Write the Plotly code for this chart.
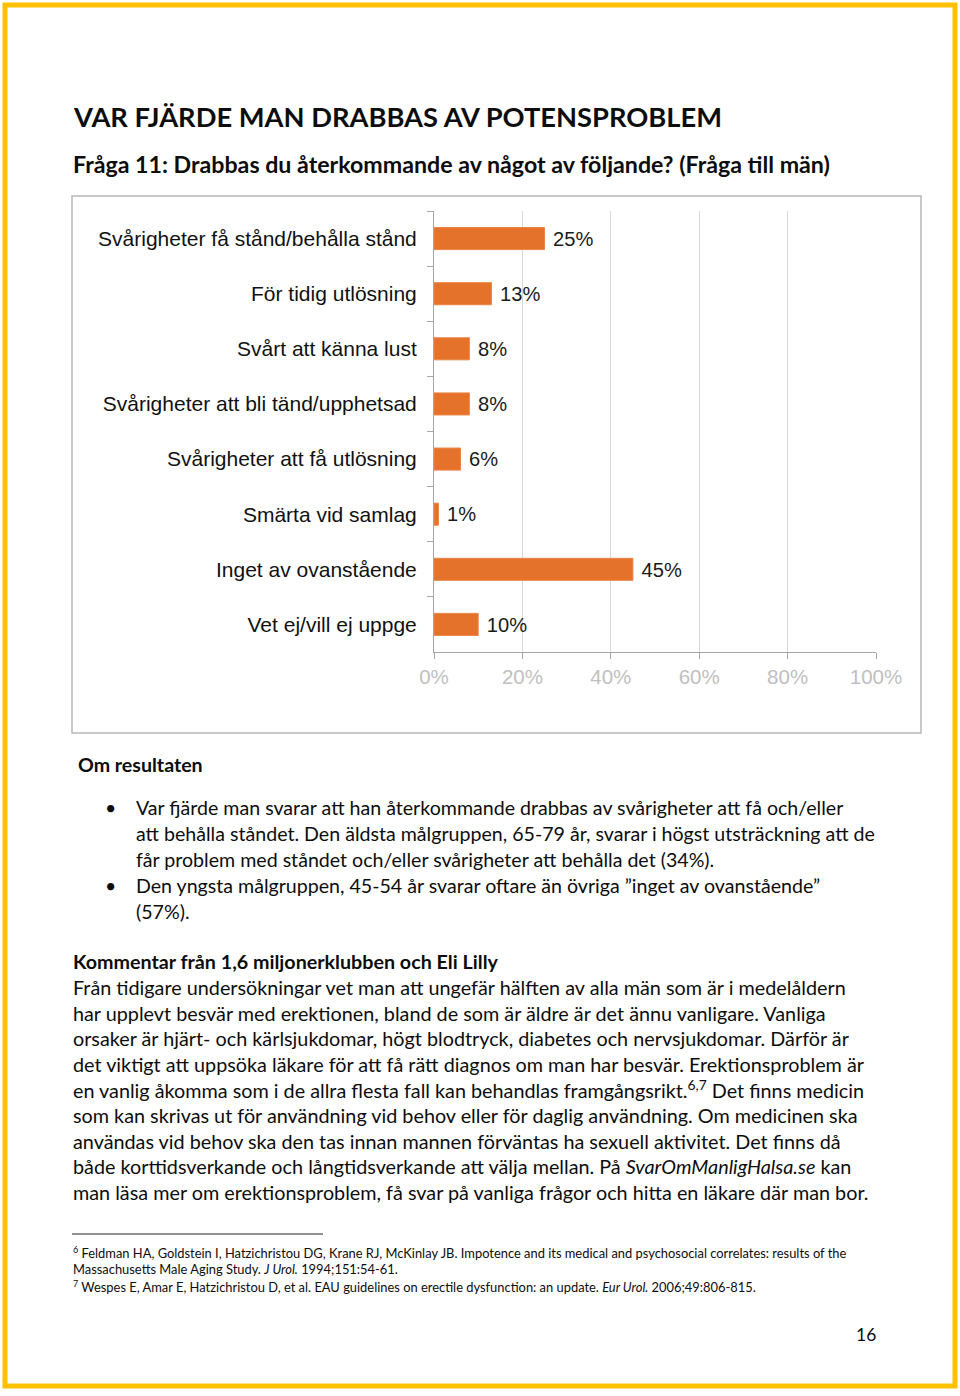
import plotly.graph_objects as go

W, H = 960, 1396

categories = [
    "Svårigheter få stånd/behålla stånd",
    "För tidig utlösning",
    "Svårt att känna lust",
    "Svårigheter att bli tänd/upphetsad",
    "Svårigheter att få utlösning",
    "Smärta vid samlag",
    "Inget av ovanstående",
    "Vet ej/vill ej uppge",
]
values = [25, 13, 8, 8, 6, 1, 45, 10]
x_ticks = [0, 20, 40, 60, 80, 100]
x_ticklabels = ["0%", "20%", "40%", "60%", "80%", "100%"]

title = "VAR FJÄRDE MAN DRABBAS AV POTENSPROBLEM"
subtitle = "Fråga 11: Drabbas du återkommande av något av följande? (Fråga till män)"
results_head = "Om resultaten"
bullet_lines = [
    (True, "Var fjärde man svarar att han återkommande drabbas av svårigheter att få och/eller"),
    (False, "att behålla ståndet. Den äldsta målgruppen, 65-79 år, svarar i högst utsträckning att de"),
    (False, "får problem med ståndet och/eller svårigheter att behålla det (34%)."),
    (True, "Den yngsta målgruppen, 45-54 år svarar oftare än övriga ”inget av ovanstående”"),
    (False, "(57%)."),
]
comment_head = "Kommentar från 1,6 miljonerklubben och Eli Lilly"
comment_lines = [
    "Från tidigare undersökningar vet man att ungefär hälften av alla män som är i medelåldern",
    "har upplevt besvär med erektionen, bland de som är äldre är det ännu vanligare. Vanliga",
    "orsaker är hjärt- och kärlsjukdomar, högt blodtryck, diabetes och nervsjukdomar. Därför är",
    "det viktigt att uppsöka läkare för att få rätt diagnos om man har besvär. Erektionsproblem är",
    "en vanlig åkomma som i de allra flesta fall kan behandlas framgångsrikt.<sup>6,7</sup> Det finns medicin",
    "som kan skrivas ut för användning vid behov eller för daglig användning. Om medicinen ska",
    "användas vid behov ska den tas innan mannen förväntas ha sexuell aktivitet. Det finns då",
    "både korttidsverkande och långtidsverkande att välja mellan. På <i>SvarOmManligHalsa.se</i> kan",
    "man läsa mer om erektionsproblem, få svar på vanliga frågor och hitta en läkare där man bor.",
]
footnotes = [
    "<sup>6</sup> Feldman HA, Goldstein I, Hatzichristou DG, Krane RJ, McKinlay JB. Impotence and its medical and psychosocial correlates: results of the",
    "Massachusetts Male Aging Study. <i>J Urol.</i> 1994;151:54-61.",
    "<sup>7</sup> Wespes E, Amar E, Hatzichristou D, et al. EAU guidelines on erectile dysfunction: an update. <i>Eur Urol.</i> 2006;49:806-815.",
]
page_number = "16"

DOC_FONT = "Lato, Carlito, Calibri, sans-serif"
CHART_FONT = "Liberation Sans, Arial, sans-serif"


def px(x):
    return x / W


def py(y):
    return 1 - y / H


fig = go.Figure()
fig.add_trace(go.Bar(
    x=values,
    y=categories,
    orientation="h",
    marker=dict(color="#E5722A", line=dict(color="#EB8445", width=1)),
    width=0.4,
    text=values,
    texttemplate=" %{x}%",
    textposition="outside",
    textfont=dict(family=CHART_FONT, size=21, color="#1a1a1a"),
    cliponaxis=False,
    hoverinfo="skip",
))

fig.update_layout(
    width=W, height=H, autosize=False,
    margin=dict(l=0, r=0, t=0, b=0, pad=0, autoexpand=False),
    paper_bgcolor="white", plot_bgcolor="white",
    showlegend=False,
    xaxis=dict(
        domain=[px(434), px(876)],
        range=[0, 100],
        tickvals=x_ticks, ticktext=x_ticklabels,
        ticks="outside", ticklen=6, tickcolor="#a6a6a6",
        showline=True, linecolor="#a6a6a6", linewidth=1,
        showgrid=True, gridcolor="#d9d9d9", gridwidth=1,
        zeroline=False,
        tickfont=dict(family=CHART_FONT, size=20.5, color="#c0c0c0"),
        ticklabelstandoff=0,
        automargin=False,
        anchor="y",
    ),
    yaxis=dict(
        domain=[py(652), py(211)],
        categoryorder="array", categoryarray=categories[::-1],
        ticks="outside", ticklen=6, tickcolor="#a6a6a6",
        tickson="boundaries",
        showline=True, linecolor="#a6a6a6", linewidth=1,
        showgrid=False, zeroline=False,
        tickfont=dict(family=CHART_FONT, size=21, color="#111111"),
        ticklabelstandoff=12,
        automargin=False,
        anchor="x",
    ),
)

shapes = [
    # page border
    dict(type="rect", xref="paper", yref="paper", x0=px(5), x1=px(955), y0=py(1386), y1=py(5),
         line=dict(color="#FFC000", width=5), fillcolor="rgba(0,0,0,0)", layer="above"),
    # chart box
    dict(type="rect", xref="paper", yref="paper", x0=px(72), x1=px(921), y0=py(733), y1=py(196),
         line=dict(color="#b8b8b8", width=1.5), fillcolor="rgba(0,0,0,0)", layer="below"),
    # footnote separator
    dict(type="line", xref="paper", yref="paper", x0=px(72), x1=px(323), y0=py(1234), y1=py(1234),
         line=dict(color="#222222", width=1)),
]

annotations = []


def text(x, y, s, size, bold=False, color="#0d0d0d", font=DOC_FONT, anchor="left"):
    annotations.append(dict(
        x=px(x), y=py(y), xref="paper", yref="paper",
        text=f"<b>{s}</b>" if bold else s,
        showarrow=False, xanchor=anchor, yanchor="middle",
        font=dict(family=font, size=size, color=color),
    ))


text(71, 116, title, 27.3, bold=True)
text(71, 164, subtitle, 23.2, bold=True)
text(76, 764, results_head, 19.6, bold=True)
y0, dy = 807, 26
for i, (is_bullet, line) in enumerate(bullet_lines):
    y = y0 + i * dy
    if is_bullet:
        text(103, y, "•", 19.5)
    text(134, y, line, 19.6)
text(71, 961, comment_head, 19.7, bold=True)
for i, line in enumerate(comment_lines):
    text(71, 987 + i * 25.6, line, 19.8)
for i, line in enumerate(footnotes):
    text(71, 1252 + i * 17, line, 12.9)
text(866, 1334, page_number, 17.5, anchor="center")

fig.update_layout(shapes=shapes, annotations=annotations)

fig.write_html("out.html", config={"displayModeBar": False},
               post_script="document.body.style.margin='0';")
